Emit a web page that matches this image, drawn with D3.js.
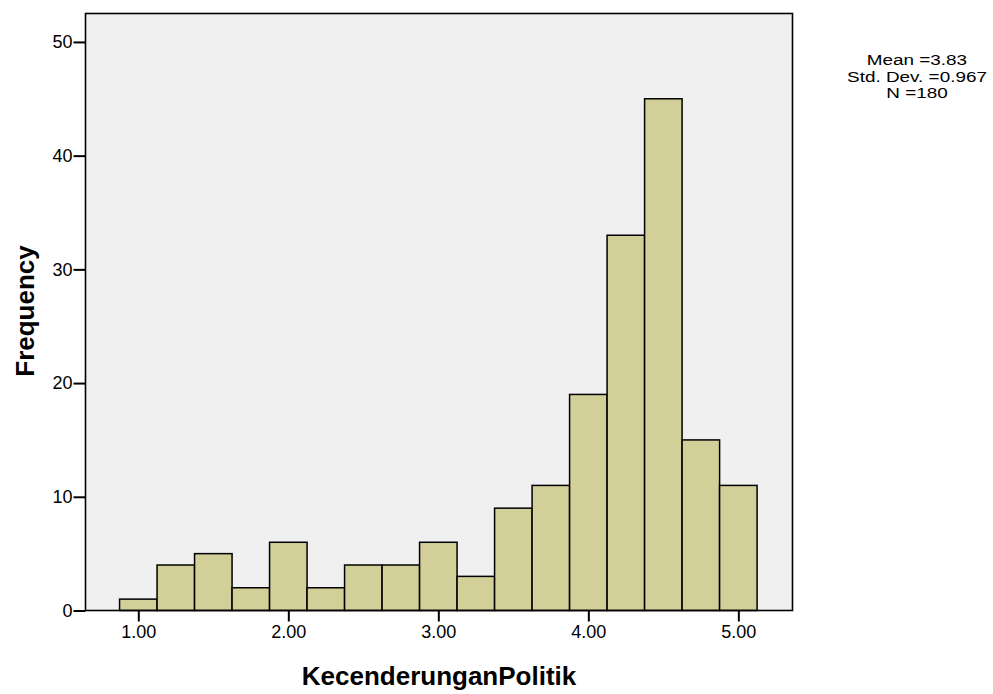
<!DOCTYPE html>
<html><head><meta charset="utf-8">
<script src="https://d3js.org/d3.v7.min.js"></script>
<style>body{margin:0;background:#fff;}svg{display:block;font-family:"Liberation Sans",Arial,sans-serif;}</style>
</head><body>
<script>
const binStarts = [0.875,1.125,1.375,1.625,1.875,2.125,2.375,2.625,2.875,3.125,3.375,3.625,3.875,4.125,4.375,4.625,4.875];
const binWidth = 0.25;
const counts = [1,4,5,2,6,2,4,4,6,3,9,11,19,33,45,15,11];
const xTicks = [1,2,3,4,5];
const yTicks = [0,10,20,30,40,50];
const statsLines = ["Mean =3.83","Std. Dev. =0.967","N =180"];

const W=993,H=694;
const L=85.5,R=792.5,T=13.5,B=610.5;
const svg=d3.select("body").append("svg").attr("width",W).attr("height",H);
const x=d3.scaleLinear().domain([0.648,5.361]).range([L,R]);
const y=d3.scaleLinear().domain([0,52.5]).range([B,T]);

svg.append("rect").attr("x",L).attr("y",T).attr("width",R-L).attr("height",B-T).attr("fill","#f0f0f0");

svg.selectAll("rect.bar").data(counts).enter().append("rect").attr("class","bar")
 .attr("x",(d,i)=>x(binStarts[i]))
 .attr("width",(d,i)=>x(binStarts[i]+binWidth)-x(binStarts[i]))
 .attr("y",d=>y(d)).attr("height",d=>B-y(d))
 .attr("fill","#d3cf98").attr("stroke","#000").attr("stroke-width",1.5);

svg.append("rect").attr("x",L).attr("y",T).attr("width",R-L).attr("height",B-T)
 .attr("fill","none").attr("stroke","#000").attr("stroke-width",1.6);

const xa=svg.append("g").attr("transform",`translate(0,${B})`)
 .call(d3.axisBottom(x).tickValues(xTicks).tickFormat(d3.format(".2f")).tickSize(11).tickPadding(4));
const ya=svg.append("g").attr("transform",`translate(${L},0)`)
 .call(d3.axisLeft(y).tickValues(yTicks).tickSize(12).tickPadding(1));
[xa,ya].forEach(a=>{a.select(".domain").remove();
 a.attr("font-size",18).attr("font-family","Liberation Sans, Arial, sans-serif");
 a.selectAll("line").attr("stroke","#000").attr("stroke-width",2);
 a.selectAll("text").attr("fill","#000");});

svg.append("text").attr("x",439).attr("y",685).attr("text-anchor","middle")
 .attr("font-size",26).attr("font-weight","bold").text("KecenderunganPolitik");
svg.append("text").attr("transform","translate(34,311) rotate(-90)").attr("text-anchor","middle")
 .attr("font-size",26).attr("font-weight","bold").text("Frequency");

const sg=svg.append("g").attr("transform","translate(917,0) scale(1.22,1)");
sg.selectAll("text.stats").data(statsLines).enter().append("text").attr("class","stats")
 .attr("x",0).attr("y",(d,i)=>65+i*16.7).attr("text-anchor","middle")
 .attr("font-size",15.5).text(d=>d);
</script>
</body></html>
